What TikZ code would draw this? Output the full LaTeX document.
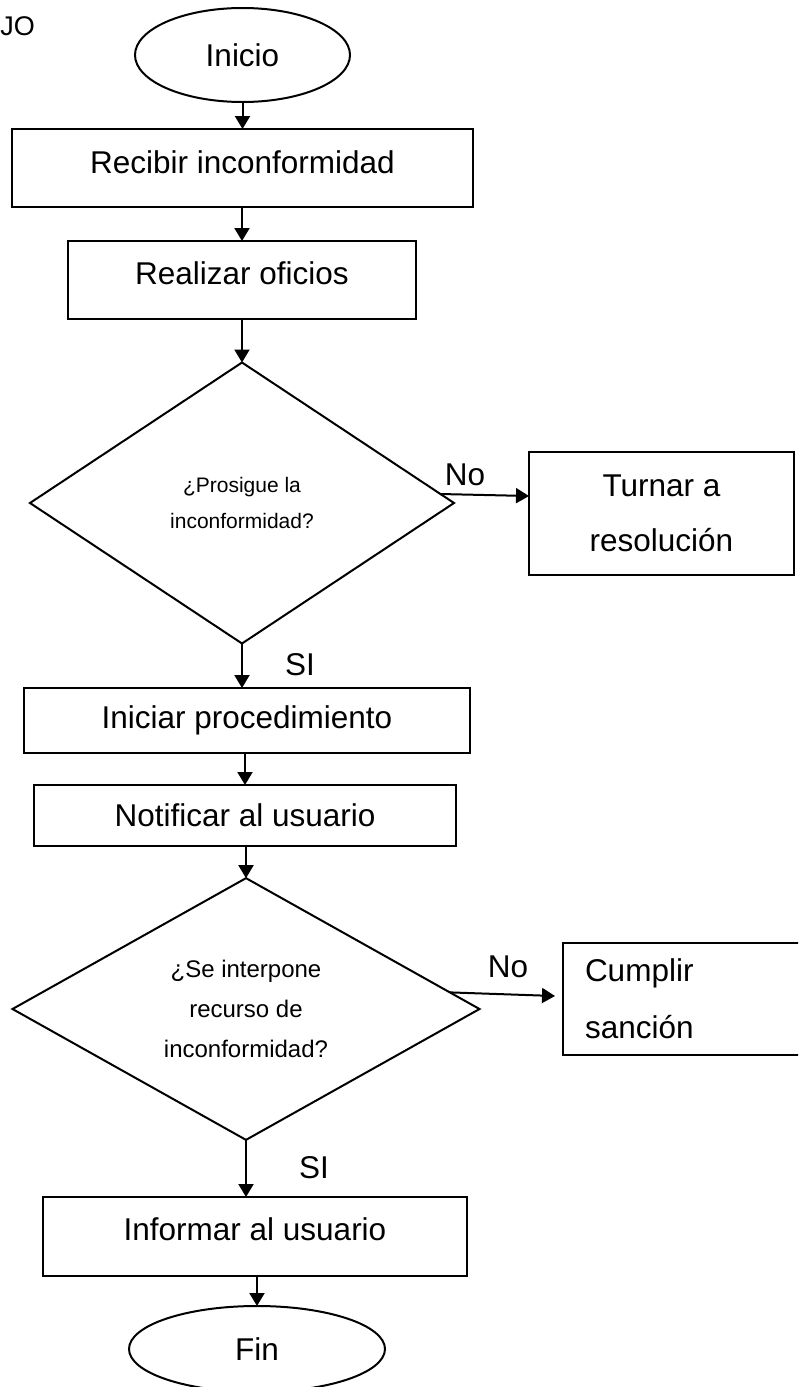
\documentclass[tikz,border=0pt]{standalone}
\usepackage{fontspec}
\setmainfont{Liberation Sans}
\usetikzlibrary{shapes.geometric,arrows.meta,calc}
\newcommand{\fBig}{\fontsize{31.5}{31.5}\selectfont}
\newcommand{\fDa}{\fontsize{21}{36}\selectfont}
\newcommand{\fDb}{\fontsize{24}{40}\selectfont}
\newcommand{\liftup}[2]{\raisebox{#1}[\height][\depth]{#2}}
\begin{document}
\begin{tikzpicture}[x=1pt,y=-1pt,
  every node/.style={inner sep=0pt, outer sep=0pt},
  box/.style={draw, line width=2pt, rectangle, font=\fBig},
  term/.style={draw, line width=2pt, ellipse, font=\fBig},
  dec/.style={draw, line width=2pt, diamond, align=center},
  lbl/.style={font=\fBig},
  conn/.style={draw, line width=2pt, -{Triangle[length=13pt,width=15pt]}}]
\useasboundingbox (0,0) rectangle (798,1387);
\clip (0,0) rectangle (798,1387);

\node[anchor=base west, font=\fontsize{27}{27}\selectfont] (title) at (0.5,35) {JO};

\node[term, minimum width=215pt, minimum height=94pt] (inicio) at (242.5,55) {Inicio};
\node[box, minimum width=461pt, minimum height=78pt] (rec) at (242.5,168) {\liftup{6pt}{Recibir inconformidad}};
\node[box, minimum width=348pt, minimum height=78pt] (ofi) at (242,280) {\liftup{7pt}{Realizar oficios}};
\node[dec, minimum width=424pt, minimum height=281pt, font=\fDa] (d1) at (242,503) {¿Prosigue la\\inconformidad?};
\node[box, minimum width=265pt, minimum height=123pt, align=center, font=\fontsize{31.5}{55}\selectfont] (turn) at (661.5,513.5) {Turnar a\\resolución};
\node[box, minimum width=446pt, minimum height=65pt] (ini) at (247,720.5) {Iniciar procedimiento};
\node[box, minimum width=422pt, minimum height=61pt] (notif) at (245,815.5) {Notificar al usuario};
\node[dec, minimum width=467pt, minimum height=252pt, font=\fDb] (d2) at (246,1009) {¿Se interpone\\recurso de\\inconformidad?};
\node[box, minimum width=267pt, minimum height=112pt, text width=223pt, inner xsep=22pt, align=left, font=\fontsize{31.5}{57}\selectfont] (cump) at (696.5,999) {Cumplir\\sanción};
\node[box, minimum width=424pt, minimum height=79pt] (inf) at (255,1236.5) {\liftup{7pt}{Informar al usuario}};
\node[term, minimum width=256pt, minimum height=86pt] (fin) at (257,1349) {Fin};

\node[lbl] (no1) at (465,475) {No};
\node[lbl] (si1) at (300,665) {SI};
\node[lbl] (no2) at (508,967) {No};
\node[lbl] (si2) at (314,1168) {SI};

\draw[conn] (inicio.south) -- (rec.north);
\draw[conn] (rec.south -| ofi.north) -- (ofi.north);
\draw[conn] (ofi.south) -- (d1.north);
\draw[conn] (d1.south) -- (d1.south |- ini.north);
\draw[conn] (ini.south -| notif.north) -- (notif.north);
\draw[conn] (notif.south -| d2.north) -- (d2.north);
\draw[conn] (d2.south) -- (d2.south |- inf.north);
\draw[conn] (inf.south -| fin.north) -- (fin.north);
\draw[conn] ($(d1.east)!0.064!(d1.north)$) -- ([yshift=17.5pt]turn.west);
\draw[conn] ($(d2.east)!0.127!(d2.north)$) -- ([xshift=-8pt,yshift=3pt]cump.west);
\end{tikzpicture}
\end{document}
